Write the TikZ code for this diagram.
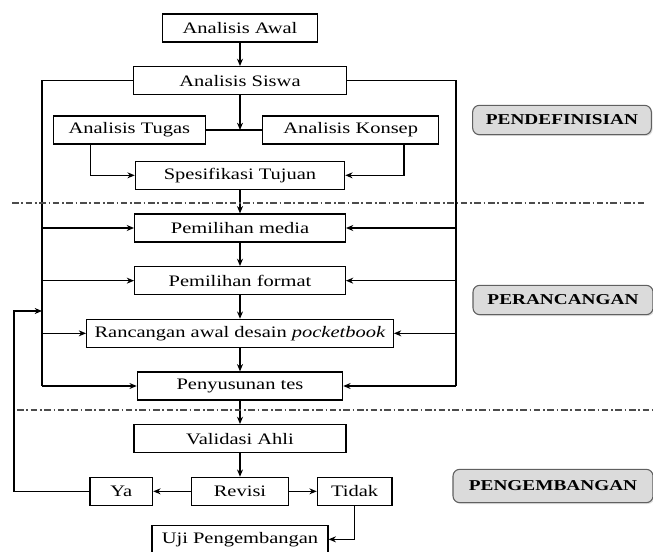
\documentclass[tikz,border=0pt]{standalone}
\usepackage{fontspec}
\setmainfont{Liberation Serif}[FakeStretch=1.28]
\usetikzlibrary{shadows,arrows.meta}

\begin{document}
\begin{tikzpicture}[x=0.75pt,y=-0.75pt,-,>={Stealth[length=5.5pt,width=4.5pt]},line width=0.9pt,node distance=39.5pt,
    box/.style={rectangle,draw,minimum height=21pt,inner sep=2pt,font=\fontsize{12}{14}\selectfont},
    phase/.style={rectangle,rounded corners=5pt,draw=gray!75!black,fill=gray!28,line width=0.8pt,
        minimum height=22pt,font=\fontsize{11.3}{13}\selectfont\bfseries,
        drop shadow={shadow xshift=1pt,shadow yshift=-1pt,opacity=0.25}},
    stage line/.style={dash pattern=on 5pt off 2pt on 1.2pt off 2pt,line width=0.8pt,gray!60!black}]

    \useasboundingbox (0,0) rectangle (653,552);

    % pendefinisian
    \node[box, minimum width=116pt] (awal) at (240,28) {Analisis Awal};
    \node[box, minimum width=160pt] (siswa) [below of = awal]{Analisis Siswa};
    \node[box, minimum width=114pt] (tugas) [node distance=37pt, below of = siswa, xshift=-83pt]{Analisis Tugas};
    \node[box, minimum width=132pt] (konsep) [node distance=37pt, below of = siswa, xshift=83pt]{Analisis Konsep};
    \node[box, minimum width=157pt] (spes) [node distance=71pt, below of = siswa]{Spesifikasi Tujuan};

    % perancangan
    \node[box, minimum width=158pt] (media) [below of = spes]{Pemilihan media};
    \node[box, minimum width=158pt] (format) [below of = media]{Pemilihan format};
    \node[box, minimum width=230pt] (rancangan) [below of = format]{Rancangan awal desain \textit{pocketbook}};
    \node[box, minimum width=154pt] (tes) [below of = rancangan]{Penyusunan tes};

    % pengembangan
    \node[box, minimum width=159pt] (validasi) [below of = tes]{Validasi Ahli};
    \node[box, minimum width=73pt] (revisi) [below of = validasi]{Revisi};
    \node[box, minimum width=47pt] (ya) [node distance=89pt, left of = revisi]{Ya};
    \node[box, minimum width=56pt] (tidak) [node distance=86pt, right of = revisi]{Tidak};
    \node[box, minimum width=132pt] (uji) [node distance=36pt, below of = revisi]{Uji Pengembangan};

    \coordinate[node distance=148.5pt, left of = siswa] (lrail);
    \coordinate[node distance=162pt, right of = siswa] (rrail);
    \coordinate (loop) at (14,311);

    \draw[->] (awal) to (siswa);
    \draw[->] (siswa) to (siswa |- tugas);
    \draw[-] (tugas) to (konsep);
    \draw[->] ([xshift=-29pt]tugas.south) |- (spes);
    \draw[->] ([xshift=40pt]konsep.south) |- (spes);
    \draw[->] (spes) to (media);
    \draw[->] (media) to (format);
    \draw[->] (format) to (rancangan);
    \draw[->] (rancangan) to (tes);
    \draw[->] (tes) to (validasi);
    \draw[->] (validasi) to (revisi);
    \draw[->] (revisi) to (ya);
    \draw[->] (revisi) to (tidak);
    \draw[->] (tidak) |- (uji);
    \draw[->] (ya) -| (loop) -- (loop -| lrail);

    % jalur samping
    \draw[-] (siswa) -- (lrail) -- (lrail |- tes);
    \draw[-] (siswa) -- (rrail) -- (rrail |- tes);
    \draw[->] (lrail |- media) to (media);
    \draw[->] (lrail |- format) to (format);
    \draw[->] (lrail |- rancangan) to (rancangan);
    \draw[->] (lrail |- tes) to (tes);
    \draw[->] (rrail |- media) to (media);
    \draw[->] (rrail |- format) to (format);
    \draw[->] (rrail |- rancangan) to (rancangan);
    \draw[->] (rrail |- tes) to (tes);

    \draw[stage line] (12,203) -- (645,203);
    \draw[stage line] (17,410) -- (653,410);

    \node[phase, minimum width=134pt] (pendefinisian) at (562,120) {PENDEFINISIAN};
    \node[phase, minimum width=135pt] (perancangan) at (563,300) {PERANCANGAN};
    \node[phase, minimum width=150pt, minimum height=25pt] (pengembangan) at (553,486) {PENGEMBANGAN};

    ;
\end{tikzpicture}
\end{document}
